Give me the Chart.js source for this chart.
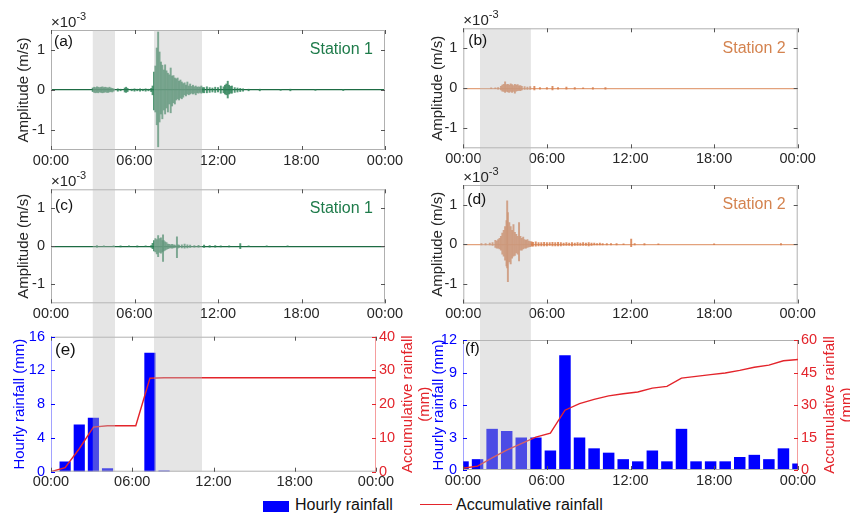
<!DOCTYPE html>
<html>
<head>
<meta charset="utf-8">
<script src="https://cdn.jsdelivr.net/npm/chart.js@4.4.1/dist/chart.umd.min.js"></script>
<style>
  html, body { margin: 0; padding: 0; background: #fff; }
  #fig { position: relative; width: 850px; height: 513px; overflow: hidden; font-family: Arial, "Liberation Sans", sans-serif; }
  #fig canvas { position: absolute; }
  .lg { position: absolute; font-size: 16px; line-height: 18px; color: #111; white-space: nowrap; }
</style>
</head>
<body>
<div id="fig">
  <div style="position:absolute;left:263px;top:501px;width:26px;height:11px;background:#0000ff;"></div>
  <div class="lg" style="left:295px;top:496px;">Hourly rainfall</div>
  <div style="position:absolute;left:420px;top:504px;width:32px;height:0;border-top:1.5px solid #e3242b;"></div>
  <div class="lg" style="left:456px;top:496px;">Accumulative rainfall</div>
</div>
<script>
const FONT = 'Arial, "Liberation Sans", sans-serif';
Chart.defaults.font.family = FONT;
Chart.defaults.color = '#262626';

// ---- data ----
const timeTicks = [0, 6, 12, 18, 24];
const ampTicks = [-1, 0, 1];
const hourLabels = ['00:00', '01:00', '02:00', '03:00', '04:00', '05:00', '06:00', '07:00',
  '08:00', '09:00', '10:00', '11:00', '12:00', '13:00', '14:00', '15:00',
  '16:00', '17:00', '18:00', '19:00', '20:00', '21:00', '22:00', '23:00'];

// hourly / accumulative rainfall (mm)
const hourlyRain1 = [0, 1.2, 5.6, 6.4, 0.4, 0, 0, 14.1, 0.15, 0, 0, 0, 0, 0, 0, 0, 0, 0, 0, 0, 0, 0, 0, 0];
const cumRain1 = [0, 1.2, 6.8, 13.2, 13.6, 13.6, 13.6, 27.7, 27.85, 27.85, 27.85, 27.85, 27.85, 27.85,
  27.85, 27.85, 27.85, 27.85, 27.85, 27.85, 27.85, 27.85, 27.85, 27.85];
const hourlyRain2 = [0.8, 1.0, 3.8, 3.6, 3.0, 3.0, 1.8, 10.6, 3.0, 2.0, 1.6, 1.0, 0.8, 1.8, 0.8, 3.8,
  0.8, 0.8, 0.8, 1.2, 1.4, 1.0, 2.0, 0.6];
const cumRain2 = [0.8, 1.8, 5.6, 9.2, 12.2, 15.2, 17.0, 27.6, 30.6, 32.6, 34.2, 35.2, 36.0, 37.8, 38.6,
  42.4, 43.2, 44.0, 44.8, 46.0, 47.4, 48.4, 50.4, 51.0];

// shaded periods (hours)
const bandsStation1 = [[3.0, 4.6], [7.4, 10.85]];
const bandsStation2 = [[1.2, 4.85]];

// waveform envelopes [hour, upper, lower] in 1e-3 m/s
const waveA = [[3.0,.05,-.04],[3.1,.07,-.06],[3.2,.06,-.07],[3.3,.08,-.06],[3.4,.07,-.07],[3.5,.06,-.05],
  [3.6,.07,-.06],[3.7,.08,-.07],[3.8,.06,-.06],[3.9,.07,-.05],[4.0,.06,-.06],[4.1,.05,-.06],[4.2,.07,-.05],
  [4.3,.05,-.04],[4.4,.04,-.05],[4.5,.03,-.03],[4.8,.03,-.03],[5.0,.02,-.02],[5.3,.05,-.05],[5.4,.07,-.06],
  [5.5,.04,-.04],[5.8,.02,-.02],[6.0,.03,-.03],[6.2,.02,-.02],[6.4,.03,-.03],[6.6,.02,-.02],[6.8,.03,-.03],
  [7.0,.02,-.02],[7.2,.04,-.04],[7.3,.1,-.12],[7.4,.45,-.5],[7.5,.6,-.55],[7.6,1.05,-.87],[7.7,1.45,-1.42],
  [7.8,.95,-.8],[7.9,.7,-.6],[8.0,.62,-.72],[8.1,.5,-.5],[8.2,.63,-.6],[8.3,.48,-.45],[8.4,.42,-.55],
  [8.5,.38,-.35],[8.6,.55,-.57],[8.7,.35,-.4],[8.8,.36,-.32],[8.9,.3,-.35],[9.0,.28,-.25],[9.1,.3,-.22],
  [9.2,.22,-.25],[9.3,.25,-.2],[9.4,.2,-.22],[9.5,.16,-.18],[9.6,.18,-.12],[9.7,.12,-.15],[9.8,.2,-.1],
  [9.9,.1,-.12],[10.0,.15,-.1],[10.1,.09,-.08],[10.2,.12,-.1],[10.3,.08,-.08],[10.4,.1,-.12],[10.5,.07,-.07],
  [10.6,.08,-.08],[10.7,.07,-.06],[10.8,.1,-.08],[10.9,.06,-.06],[11.0,.06,-.07],[11.2,.08,-.07],
  [11.4,.06,-.06],[11.6,.05,-.05],[11.8,.07,-.06],[12.0,.06,-.05],[12.2,.1,-.08],[12.4,.08,-.07],
  [12.5,.12,-.1],[12.6,.15,-.12],[12.7,.22,-.2],[12.8,.12,-.1],[12.9,.09,-.08],[13.0,.1,-.08],
  [13.2,.06,-.06],[13.4,.05,-.05],[13.6,.04,-.04],[13.8,.03,-.03],[14.2,.02,-.02],[15.0,.02,-.02],
  [16.5,.01,-.01],[17.2,.02,-.02],[19.0,.01,-.01],[21.0,.015,-.015]];
const waveB = [[2.0,.01,-.01],[2.3,.01,-.01],[2.5,.02,-.02],[2.7,.05,-.04],[2.8,.08,-.07],[2.9,.1,-.08],
  [3.0,.16,-.1],[3.1,.09,-.08],[3.2,.1,-.09],[3.3,.08,-.1],[3.4,.11,-.08],[3.5,.09,-.1],[3.6,.07,-.08],
  [3.7,.1,-.12],[3.8,.08,-.07],[3.9,.09,-.06],[4.0,.06,-.05],[4.1,.07,-.06],[4.2,.05,-.04],[4.4,.04,-.03],
  [4.6,.03,-.03],[4.8,.04,-.03],[5.1,.05,-.04],[5.5,.02,-.02],[6.0,.02,-.02],[6.4,.05,-.04],[6.8,.02,-.02],
  [7.4,.03,-.02],[8.0,.02,-.02],[8.6,.01,-.01],[9.3,.02,-.02],[10.2,.02,-.02]];
const waveC = [[3.3,.02,-.02],[3.8,.01,-.01],[4.5,.01,-.01],[5.0,.015,-.015],[5.6,.01,-.01],[6.2,.015,-.015],
  [6.8,.01,-.01],[7.2,.02,-.02],[7.3,.08,-.06],[7.4,.15,-.12],[7.5,.2,-.15],[7.6,.18,-.2],[7.7,.28,-.27],
  [7.8,.2,-.16],[7.9,.22,-.18],[8.0,.15,-.15],[8.05,.3,-.4],[8.1,.15,-.12],[8.2,.12,-.1],[8.3,.1,-.08],
  [8.4,.06,-.06],[8.5,.05,-.05],[8.6,.04,-.04],[8.7,.05,-.05],[8.8,.04,-.04],[8.9,.03,-.03],[9.05,.25,-.3],
  [9.1,.04,-.05],[9.2,.03,-.03],[9.4,.04,-.04],[9.6,.06,-.05],[9.8,.04,-.04],[10.0,.03,-.03],[10.3,.02,-.02],
  [10.6,.025,-.025],[11.0,.03,-.03],[11.4,.02,-.02],[11.8,.02,-.02],[12.2,.015,-.015],[12.8,.015,-.015],
  [13.6,.07,-.06],[14.2,.01,-.01],[15.5,.01,-.01],[17.0,.01,-.01]];
const waveD = [[1.3,.02,-.02],[1.6,.02,-.02],[1.9,.03,-.02],[2.1,.04,-.03],[2.3,.1,-.08],[2.4,.08,-.1],
  [2.5,.12,-.1],[2.6,.15,-.12],[2.7,.2,-.15],[2.8,.28,-.25],[2.9,.35,-.3],[3.0,.45,-.4],[3.1,.6,-.55],
  [3.15,1.1,-.6],[3.2,.8,-.95],[3.3,.55,-.45],[3.4,.45,-.5],[3.5,.35,-.35],[3.6,.5,-.3],[3.7,.3,-.28],
  [3.8,.25,-.22],[3.9,.2,-.25],[4.0,.55,-.42],[4.1,.2,-.15],[4.2,.15,-.15],[4.3,.18,-.12],[4.4,.12,-.1],
  [4.5,.1,-.1],[4.6,.12,-.08],[4.7,.08,-.07],[4.8,.07,-.06],[4.9,.06,-.05],[5.0,.05,-.05],[5.2,.06,-.05],
  [5.4,.04,-.04],[5.6,.04,-.04],[5.8,.05,-.04],[6.0,.04,-.04],[6.2,.04,-.03],[6.4,.05,-.04],[6.6,.04,-.04],
  [6.8,.05,-.04],[7.0,.04,-.04],[7.2,.03,-.03],[7.4,.04,-.03],[7.6,.03,-.03],[7.8,.04,-.04],[8.0,.03,-.03],
  [8.2,.04,-.03],[8.4,.03,-.03],[8.6,.04,-.03],[8.8,.03,-.03],[9.0,.04,-.04],[9.2,.03,-.03],[9.4,.03,-.02],
  [9.6,.02,-.02],[9.8,.03,-.02],[10.0,.02,-.02],[10.3,.02,-.02],[10.6,.02,-.02],[11.0,.015,-.015],
  [11.5,.01,-.01],[12.05,.13,-.06],[12.3,.02,-.02],[13.0,.015,-.015],[14.0,.01,-.01],[18.0,.01,-.01],
  [22.8,.02,-.02]];

// ---- layout (canvas boxes and plot areas in page pixels) ----
const layout = {
  a: { left: 0,   top: 0,   w: 420, h: 172, area: [51, 30, 385, 150],         band: [30, 170] },
  b: { left: 420, top: 0,   w: 430, h: 172, area: [463.3, 28.3, 797.7, 148.3], band: [28.3, 168] },
  c: { left: 0,   top: 160, w: 420, h: 170, area: [51, 189.3, 385, 303.3],    band: [170, 322] },
  d: { left: 420, top: 160, w: 430, h: 170, area: [463.3, 185, 797.7, 303.5], band: [168, 322] },
  e: { left: 0,   top: 318, w: 440, h: 195, area: [51, 336.7, 376, 471.7],    band: [322, 471.7] },
  f: { left: 420, top: 318, w: 430, h: 195, area: [463, 340, 798, 470],       band: [322, 470] }
};

const GREEN = '#1e7b4a', ORANGE = '#d4834f', BLUE = '#0000ff', RED = '#e3242b';
const charts = {};
const decor = {
  a: { ref: 'a', bands: bandsStation1, tag: '(a)', tagPos: [3, 12], station: 'Station 1', stationColor: GREEN, exp: true },
  c: { ref: 'a', bands: bandsStation1, tag: '(c)', tagPos: [4, 16], station: 'Station 1', stationColor: GREEN, exp: true },
  e: { ref: 'a', bands: bandsStation1, tag: '(e)', tagPos: [4, 14], tagSize: 17, rainfall: true },
  b: { ref: 'b', bands: bandsStation2, tag: '(b)', tagPos: [5, 12], station: 'Station 2', stationColor: ORANGE, exp: true },
  d: { ref: 'b', bands: bandsStation2, tag: '(d)', tagPos: [4, 15], station: 'Station 2', stationColor: ORANGE, exp: true },
  f: { ref: 'b', bands: bandsStation2, tag: '(f)', tagPos: [2, 8.5], rainfall: true }
};

function seg(ctx, x1, y1, x2, y2) {
  ctx.beginPath(); ctx.moveTo(x1, y1); ctx.lineTo(x2, y2); ctx.stroke();
}

// box, inward ticks, shaded periods and panel texts
const figureDecor = {
  id: 'figureDecor',
  afterDraw(chart) {
    const id = chart.canvas.id, d = decor[id], L = layout[id];
    const { ctx, chartArea: a } = chart;
    const xs = chart.scales.x, ys = chart.scales.y, y1 = chart.scales.y1;
    ctx.save();
    ctx.lineWidth = 1;
    // box
    ctx.strokeStyle = '#b0b0b0';
    seg(ctx, a.left, a.top + 0.5, a.right, a.top + 0.5);
    seg(ctx, a.left, a.bottom - 0.5, a.right, a.bottom - 0.5);
    ctx.strokeStyle = d.rainfall ? 'rgba(70,70,255,0.5)' : '#b0b0b0';
    seg(ctx, a.left + 0.5, a.top, a.left + 0.5, a.bottom);
    ctx.strokeStyle = d.rainfall ? 'rgba(235,60,60,0.5)' : '#b0b0b0';
    seg(ctx, a.right - 0.5, a.top, a.right - 0.5, a.bottom);
    // inward ticks
    ctx.strokeStyle = '#555';
    xs.ticks.forEach(t => {
      const px = Math.round(xs.getPixelForValue(t.value)) + 0.5;
      seg(ctx, px, a.bottom, px, a.bottom - 4);
      seg(ctx, px, a.top, px, a.top + 4);
    });
    ctx.strokeStyle = d.rainfall ? BLUE : '#555';
    ys.ticks.forEach(t => {
      const py = Math.round(ys.getPixelForValue(t.value)) + 0.5;
      seg(ctx, a.left, py, a.left + 4, py);
      if (!y1) seg(ctx, a.right, py, a.right - 4, py);
    });
    if (y1) {
      ctx.strokeStyle = RED;
      y1.ticks.forEach(t => {
        const py = Math.round(y1.getPixelForValue(t.value)) + 0.5;
        seg(ctx, a.right, py, a.right - 4, py);
      });
    }
    // shaded periods, aligned on the top panel's time scale
    const ref = (charts[d.ref] || chart).scales.x;
    ctx.fillStyle = 'rgba(190,190,190,0.4)';
    const yTop = L.band[0] - L.top, yBot = L.band[1] - L.top;
    d.bands.forEach(([h1, h2]) => {
      const x1 = ref.getPixelForValue(h1), x2 = ref.getPixelForValue(h2);
      ctx.fillRect(x1, yTop, x2 - x1, yBot - yTop);
    });
    // panel tag
    ctx.fillStyle = '#111';
    ctx.textAlign = 'left';
    ctx.textBaseline = 'middle';
    ctx.font = (d.tagSize || 15.5) + 'px ' + FONT;
    ctx.fillText(d.tag, a.left + d.tagPos[0], a.top + d.tagPos[1]);
    // station name
    if (d.station) {
      ctx.font = '16px ' + FONT;
      ctx.fillStyle = d.stationColor;
      ctx.textAlign = 'right';
      ctx.fillText(d.station, a.right - 12, ys.getPixelForValue(1));
    }
    // exponent label
    if (d.exp) {
      ctx.fillStyle = '#262626';
      ctx.textAlign = 'left';
      ctx.textBaseline = 'alphabetic';
      ctx.font = '15px ' + FONT;
      ctx.fillText('\u00d710', a.left, a.top - 3);
      const w = ctx.measureText('\u00d710').width;
      ctx.font = '11px ' + FONT;
      ctx.fillText('-3', a.left + w, a.top - 10);
    }
    // right axis title, reading bottom to top
    if (y1) {
      ctx.font = '15px ' + FONT;
      ctx.fillStyle = RED;
      ctx.textAlign = 'center';
      ctx.textBaseline = 'middle';
      ['Accumulative rainfall', '(mm)'].forEach((txt, i) => {
        ctx.save();
        ctx.translate(a.right + 32 + i * 17, (a.top + a.bottom) / 2);
        ctx.rotate(-Math.PI / 2);
        ctx.fillText(txt, 0, 0);
        ctx.restore();
      });
    }
    ctx.restore();
  }
};

function makeCanvas(id) {
  const L = layout[id];
  const c = document.createElement('canvas');
  c.id = id;
  c.width = L.w; c.height = L.h;
  c.style.left = L.left + 'px'; c.style.top = L.top + 'px';
  c.style.width = L.w + 'px'; c.style.height = L.h + 'px';
  document.getElementById('fig').appendChild(c);
  return c;
}

function timeAxis(bottomH) {
  return {
    type: 'linear', position: 'bottom', min: 0, max: 24, offset: false,
    afterBuildTicks: s => { s.ticks = timeTicks.map(v => ({ value: v })); },
    afterFit: s => { s.height = bottomH; },
    ticks: {
      padding: 2, maxRotation: 0, autoSkip: false, font: { size: 14.5 }, color: '#262626',
      callback: v => String(v % 24).padStart(2, '0') + ':00'
    },
    grid: { display: false, offset: false, drawTicks: false },
    border: { display: false }
  };
}

function waveChart(id, wave, color, zeroColor, titlePad) {
  const L = layout[id];
  const [al, at, ar, ab] = L.area;
  charts[id] = new Chart(makeCanvas(id), {
    type: 'bar',
    data: {
      datasets: [{
        data: wave.map(([t, hi, lo]) => ({ x: t, y: [lo, hi] })),
        backgroundColor: color,
        borderWidth: 0,
        barThickness: 1.3,
        grouped: false
      }]
    },
    options: {
      responsive: false,
      animation: false,
      events: [],
      layout: { padding: { top: at - L.top, right: L.left + L.w - ar, left: 0, bottom: 0 } },
      plugins: { legend: { display: false }, tooltip: { enabled: false } },
      scales: {
        x: timeAxis(L.top + L.h - ab),
        y: {
          min: -1.5, max: 1.5,
          afterBuildTicks: s => { s.ticks = ampTicks.map(v => ({ value: v })); },
          afterFit: s => { s.width = al - L.left; },
          ticks: { padding: 6, font: { size: 14.5 }, color: '#262626' },
          grid: {
            color: c => (c.tick && c.tick.value === 0 ? zeroColor : 'rgba(0,0,0,0)'),
            lineWidth: 1.3, drawTicks: false
          },
          border: { display: false },
          title: {
            display: true, text: 'Amplitude (m/s)', font: { size: 15 }, color: '#262626',
            padding: { top: titlePad, bottom: 0 }
          }
        }
      }
    },
    plugins: [figureDecor]
  });
}

function rainChart(id, hourly, cum, yMax, yStep, y1Max, y1Step, titlePad) {
  const L = layout[id];
  const [al, at, ar, ab] = L.area;
  charts[id] = new Chart(makeCanvas(id), {
    type: 'bar',
    data: {
      labels: hourLabels,
      datasets: [
        {
          type: 'line', label: 'Accumulative rainfall', data: cum, xAxisID: 'xb', yAxisID: 'y1',
          borderColor: RED, borderWidth: 1.4, pointRadius: 0, tension: 0, order: 0
        },
        {
          type: 'bar', label: 'Hourly rainfall', data: hourly, xAxisID: 'xb', yAxisID: 'y',
          backgroundColor: BLUE, borderWidth: 0, barPercentage: 0.79, categoryPercentage: 1, order: 1
        }
      ]
    },
    options: {
      responsive: false,
      animation: false,
      events: [],
      layout: { padding: { top: at - L.top, right: 0, left: 0, bottom: 0 } },
      plugins: { legend: { display: false }, tooltip: { enabled: false } },
      scales: {
        xb: { type: 'category', display: false, offset: false, grid: { offset: false } },
        x: timeAxis(L.top + L.h - ab),
        y: {
          position: 'left', min: 0, max: yMax,
          afterFit: s => { s.width = al - L.left; },
          ticks: { stepSize: yStep, padding: 6, font: { size: 14.5 }, color: BLUE },
          grid: { display: false, drawTicks: false }, border: { display: false },
          title: {
            display: true, text: 'Hourly rainfall (mm)', font: { size: 15 }, color: BLUE,
            padding: { top: titlePad, bottom: 0 }
          }
        },
        y1: {
          position: 'right', min: 0, max: y1Max,
          afterFit: s => { s.width = L.left + L.w - ar; },
          ticks: { stepSize: y1Step, padding: 3, font: { size: 14.5 }, color: RED },
          grid: { display: false, drawTicks: false }, border: { display: false }
        }
      }
    },
    plugins: [figureDecor]
  });
}

waveChart('a', waveA, 'rgba(40,128,84,0.8)', '#1d6b43', 15);
waveChart('b', waveB, 'rgba(214,125,75,0.85)', '#e3a27c', 8.5);
waveChart('c', waveC, 'rgba(40,128,84,0.8)', '#1d6b43', 15);
waveChart('d', waveD, 'rgba(214,125,75,0.85)', '#e3a27c', 8.5);
rainChart('e', hourlyRain1, cumRain1, 16, 4, 40, 10, 11);
rainChart('f', hourlyRain2, cumRain2, 12, 3, 60, 15, 9.5);
</script>
</body>
</html>
